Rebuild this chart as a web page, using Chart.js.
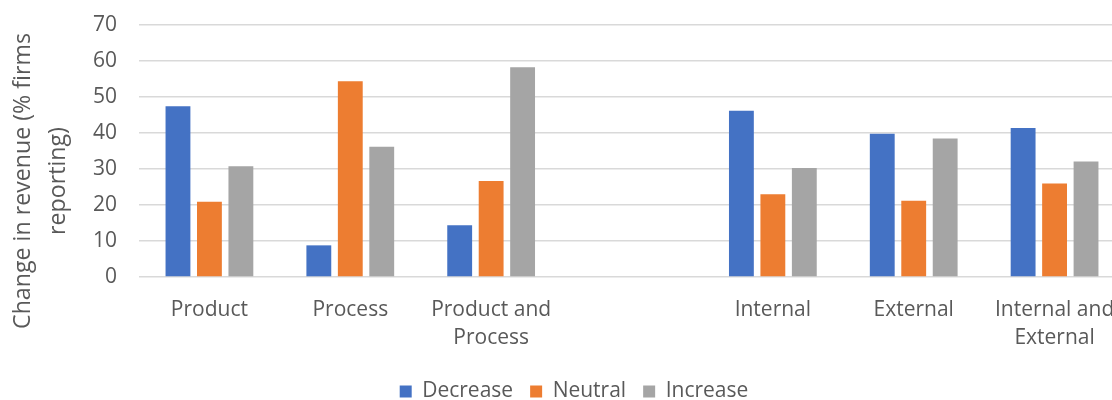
<!DOCTYPE html>
<html>
<head>
<meta charset="utf-8">
<script src="https://cdn.jsdelivr.net/npm/chart.js@4.4.1/dist/chart.umd.min.js"></script>
<style>
  html, body { margin: 0; padding: 0; background: #fff; overflow: hidden; }
  #wrap { position: relative; width: 1125px; height: 400px; }
</style>
</head>
<body>
<div id="wrap"><canvas id="c"></canvas></div>
<script>
const categories = ["Product", "Process", ["Product and", "Process"], "", "Internal", "External", ["Internal and", "External"]];
const decrease = [47.4, 8.8, 14.4, null, 46.2, 39.8, 41.4];
const neutral  = [20.9, 54.4, 26.7, null, 23.0, 21.2, 26.0];
const increase = [30.8, 36.2, 58.3, null, 30.3, 38.5, 32.1];
const seriesNames = ["Decrease", "Neutral", "Increase"];
const yTicks = [0, 10, 20, 30, 40, 50, 60, 70];
const yTitleLines = ["Change in revenue (% firms", "reporting)"];

const FONT = "'Open Sans', sans-serif";
const TEXT = "#595959";

const yTitlePlugin = {
  id: 'yTitle',
  afterDraw(chart) {
    const ctx = chart.ctx;
    ctx.save();
    ctx.font = "23.2px " + FONT;
    ctx.fillStyle = TEXT;
    ctx.textAlign = "center";
    ctx.textBaseline = "middle";
    const xs = [23, 58];
    yTitleLines.forEach((t, i) => {
      ctx.save();
      ctx.translate(xs[i], 181);
      ctx.rotate(-Math.PI / 2);
      ctx.fillText(t, 0, 0);
      ctx.restore();
    });
    ctx.restore();
  }
};

new Chart(document.getElementById('c'), {
  type: 'bar',
  data: {
    labels: categories,
    datasets: [
      { label: seriesNames[0], data: decrease, backgroundColor: '#4472C4' },
      { label: seriesNames[1], data: neutral, backgroundColor: '#ED7D31' },
      { label: seriesNames[2], data: increase, backgroundColor: '#A5A5A5' }
    ]
  },
  options: {
    responsive: true,
    maintainAspectRatio: false,
    animation: false,
    datasets: { bar: { categoryPercentage: 0.67, barPercentage: 0.79 } },
    layout: { padding: { left: 23, right: 0, top: 25, bottom: -12 } },
    plugins: {
      legend: {
        position: 'bottom',
        labels: {
          font: { family: FONT, size: 21 },
          color: TEXT,
          boxWidth: 12,
          boxHeight: 12,
          padding: 17
        }
      },
      tooltip: { enabled: false }
    },
    scales: {
      x: {
        grid: { display: false },
        border: { display: false },
        afterFit(scale) { scale.height += 1; },
        ticks: {
          font: { family: FONT, size: 21, lineHeight: 1.38 },
          color: TEXT,
          padding: 10,
          maxRotation: 0,
          autoSkip: false
        }
      },
      y: {
        min: 0,
        max: 70,
        afterBuildTicks(axis) { axis.ticks = yTicks.map(v => ({ value: v })); },
        afterFit(scale) { scale.width = 116; scale.paddingTop = 0; scale.paddingBottom = 0; },
        grid: { color: '#D9D9D9', lineWidth: 1.5, drawTicks: false },
        border: { display: false },
        ticks: {
          font: { family: FONT, size: 21 },
          color: TEXT,
          padding: 22
        }
      }
    }
  },
  plugins: [yTitlePlugin]
});
</script>
</body>
</html>
